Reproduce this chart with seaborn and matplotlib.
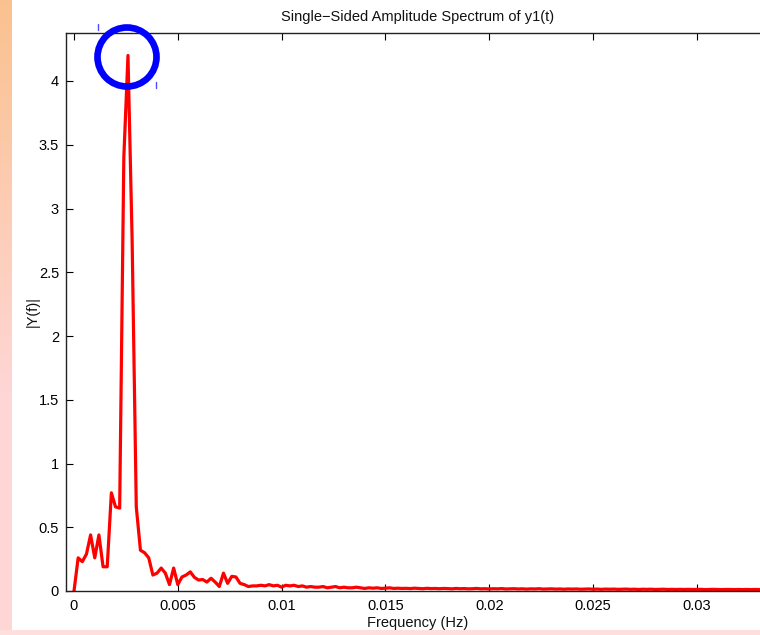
import numpy as np
import pandas as pd
import seaborn as sns
import matplotlib
matplotlib.use("Agg")
import matplotlib.pyplot as plt
from matplotlib.patches import Ellipse
from matplotlib.lines import Line2D

# ---- data ----
df_hz = 0.0002
amp_head = [0.00, 0.26, 0.23, 0.29, 0.44, 0.26, 0.44, 0.19, 0.19, 0.77,
            0.66, 0.65, 3.40, 4.20, 2.75, 0.66, 0.32, 0.30, 0.26, 0.125,
            0.14, 0.18, 0.14, 0.05, 0.18, 0.05, 0.11, 0.125, 0.15, 0.107,
            0.086, 0.09, 0.07, 0.10, 0.07, 0.035, 0.14, 0.06, 0.115, 0.11,
            0.06, 0.05, 0.035, 0.04, 0.04, 0.045, 0.04, 0.05, 0.04, 0.045]
amp_tail = [0.03, 0.045, 0.04, 0.045, 0.035, 0.04, 0.03, 0.035, 0.03, 0.03,
            0.035, 0.025, 0.03, 0.035, 0.025, 0.03, 0.025, 0.025, 0.03, 0.025,
            0.02, 0.025, 0.022, 0.025, 0.02, 0.022, 0.025, 0.02, 0.022, 0.02,
            0.021, 0.019, 0.022, 0.02, 0.018, 0.021, 0.019, 0.02, 0.018, 0.02,
            0.019, 0.017, 0.02, 0.018, 0.019, 0.017, 0.018, 0.02, 0.017, 0.018,
            0.016, 0.018, 0.017, 0.019, 0.016, 0.017, 0.018, 0.016, 0.017, 0.015,
            0.017, 0.016, 0.018, 0.015, 0.016, 0.017, 0.015, 0.016, 0.014, 0.016,
            0.015, 0.016, 0.014, 0.015, 0.016, 0.014, 0.015, 0.013, 0.015, 0.014,
            0.015, 0.013, 0.014, 0.015, 0.013, 0.014, 0.012, 0.014, 0.013, 0.014,
            0.012, 0.013, 0.014, 0.012, 0.013, 0.012, 0.013, 0.012, 0.013, 0.012,
            0.012, 0.013, 0.011, 0.012, 0.013, 0.012, 0.011, 0.012, 0.012, 0.011,
            0.012, 0.011, 0.012, 0.011, 0.012, 0.011, 0.011, 0.012]
amplitude = amp_head + amp_tail
frequency = [i * df_hz for i in range(len(amplitude))]

x_ticks = [0, 0.005, 0.01, 0.015, 0.02, 0.025, 0.03]
x_tick_labels = ["0", "0.005", "0.01", "0.015", "0.02", "0.025", "0.03"]
y_ticks = [0, 0.5, 1, 1.5, 2, 2.5, 3, 3.5, 4]
y_tick_labels = ["0", "0.5", "1", "1.5", "2", "2.5", "3", "3.5", "4"]

title = "Single\u2212Sided Amplitude Spectrum of y1(t)"
xlabel = "Frequency (Hz)"
ylabel = "|Y(f)|"

data = pd.DataFrame({"freq": frequency, "amp": amplitude})

# ---- figure ----
sns.set_theme(style="white")
plt.rcParams["font.family"] = ["Liberation Sans", "DejaVu Sans"]

W, H = 760, 635
fig = plt.figure(figsize=(W / 100, H / 100), dpi=100)
fig.patch.set_facecolor("white")

# decorative slide background strips
bg = fig.add_axes([0, 0, 12 / W, 1])
grad = np.linspace(0, 1, 256)[:, None]
top_c = np.array([0.98, 0.76, 0.56])
bot_c = np.array([1.0, 0.84, 0.84])
w = np.clip(grad * 1.6, 0, 1)
img = top_c[None, None, :] * (1 - w[:, :, None]) + bot_c[None, None, :] * w[:, :, None]
bg.imshow(img, aspect="auto", extent=[0, 1, 0, 1])
bg.axis("off")
bot = fig.add_axes([0, 0, 1, 5 / H])
bot.set_facecolor((1.0, 0.87, 0.87))
bot.set_xticks([]); bot.set_yticks([])
for s in bot.spines.values():
    s.set_visible(False)

left_px, right_px, top_px, bottom_px = 66, 770, 33, 591
ax = fig.add_axes([left_px / W, 1 - bottom_px / H,
                   (right_px - left_px) / W, (bottom_px - top_px) / H])
ax.set_facecolor("white")

sns.lineplot(data=data, x="freq", y="amp", color=(1, 0, 0), linewidth=2.3,
             ax=ax, sort=False, estimator=None)

x0 = -8 / 103.8 * 0.005
x1 = (right_px - 74) / 103.8 * 0.005
ax.set_xlim(x0, x1)
ax.set_ylim(0, (bottom_px - top_px) / 127.5)
ax.set_xticks(x_ticks)
ax.set_xticklabels(x_tick_labels)
ax.set_yticks(y_ticks)
ax.set_yticklabels(y_tick_labels)
ax.tick_params(direction="in", length=5, width=0.8, colors="black",
               labelsize=10.5, top=True, right=True, bottom=True, left=True)
ax.tick_params(axis="x", pad=6)
ax.tick_params(axis="y", pad=5)
for s in ax.spines.values():
    s.set_visible(True)
    s.set_color("#222222")
    s.set_linewidth(1.0)

ax.set_title(title, fontsize=10.5, pad=9, color="#111111")
ax.set_xlabel(xlabel, fontsize=10.5, labelpad=2, color="#111111")
ax.set_ylabel(ylabel, fontsize=10.5, labelpad=-1, color="#111111")

# blue circle annotation around the peak
cx, cy, r = 127, 57, 29.5
fig.add_artist(Ellipse((cx / W, 1 - cy / H), 2 * r / W, 2 * r / H,
                       transform=fig.transFigure, fill=False,
                       edgecolor=(0, 0, 1), linewidth=4.8, zorder=10))
for (mx, my) in [(98, 27), (156, 85)]:
    fig.add_artist(Line2D([mx / W, mx / W], [1 - (my - 3) / H, 1 - (my + 3) / H],
                          transform=fig.transFigure, color=(0.3, 0.3, 1.0),
                          linewidth=1.0, zorder=10))

fig.savefig("out.png", dpi=100)
